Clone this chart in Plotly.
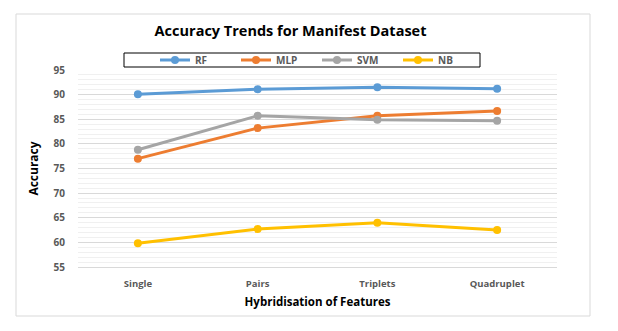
import plotly.graph_objects as go

categories = ["Single", "Pairs", "Triplets", "Quadruplet"]
rf = [90.1, 91.1, 91.5, 91.2]
mlp = [77.0, 83.2, 85.7, 86.7]
svm = [78.8, 85.7, 84.9, 84.7]
nb = [59.8, 62.7, 64.0, 62.5]

series = [("RF", rf, "#5B9BD5"), ("MLP", mlp, "#ED7D31"),
          ("SVM", svm, "#A5A5A5"), ("NB", nb, "#FFC000")]

W, H = 618, 331
OFF = 8  # page body margin
# plot area in page pixels: x 78..557, y 70..267
L = 78 - OFF
T = 70 - OFF
R = W - (557 - OFF)
B = H - (267 - OFF)
pw, ph = W - L - R, H - T - B


def px(x):
    return (x - OFF - L) / pw


def py(y):
    return (H - B - (y - OFF)) / ph


fig = go.Figure()
for name, vals, col in series:
    fig.add_trace(go.Scatter(
        x=categories, y=vals, name=name, mode="lines+markers",
        line=dict(color=col, width=3),
        marker=dict(color=col, size=8),
    ))

font = "Open Sans"
fig.update_layout(
    width=W, height=H,
    margin=dict(l=L, r=R, t=T, b=B),
    paper_bgcolor="white", plot_bgcolor="white",
    font=dict(family=font, color="#595959"),
    title=dict(text="Accuracy Trends for Manifest Dataset",
               x=px(297), xanchor="center", y=1 - (31 - OFF) / H, yanchor="middle",
               font=dict(size=14.5, color="black", family=font, weight="bold")),
    legend=dict(orientation="h", x=px(155), xanchor="left",
                y=py(60), yanchor="middle",
                borderwidth=0, bgcolor="rgba(0,0,0,0)",
                entrywidth=36, entrywidthmode="pixels",
                font=dict(size=10, color="#595959", weight="bold"),
                itemwidth=30, tracegroupgap=0),
    showlegend=True,
    xaxis=dict(showgrid=False, showline=True, linecolor="#d9d9d9", linewidth=1,
               range=[-0.5, 3.5],
               ticks="", tickfont=dict(size=9.5, color="#595959", weight="bold"),
               ticklabelstandoff=8,
               title=dict(text="Hybridisation of Features",
                          font=dict(size=11.5, color="black", weight="bold"),
                          standoff=8)),
    yaxis=dict(range=[55, 95], dtick=5, showgrid=True, gridcolor="#d9d9d9",
               zeroline=False, ticks="",
               tickfont=dict(size=10, color="#595959", weight="bold"),
               ticklabelstandoff=12,
               minor=dict(dtick=1, showgrid=True, gridcolor="#f0f0f0"),
               title=dict(text="Accuracy",
                          font=dict(size=12, color="black", weight="bold"),
                          standoff=12)),
)

# outer chart border
fig.add_shape(type="rect", xref="paper", yref="paper",
              x0=px(16), x1=px(590), y0=py(316), y1=py(14),
              line=dict(color="#d9d9d9", width=1), layer="below")
# legend frame
fig.add_shape(type="rect", xref="paper", yref="paper",
              x0=px(124), x1=px(480), y0=py(67), y1=py(53),
              line=dict(color="black", width=1), fillcolor="white", layer="above")

fig.write_html("out.html")
